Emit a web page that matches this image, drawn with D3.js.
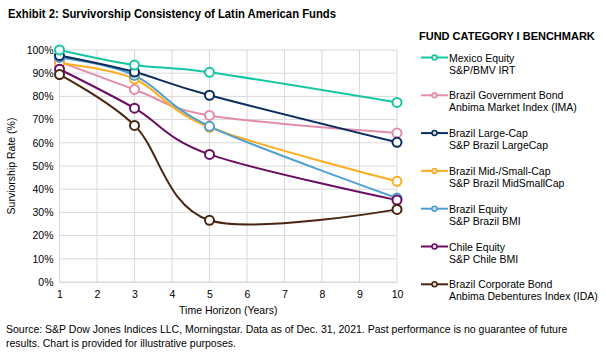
<!DOCTYPE html>
<meta charset="utf-8" />
<title>Survivorship Consistency of Latin American Funds</title>
<style>
  body { margin: 0; background: #fff; }
  svg { display: block; font-family: "Liberation Sans", Arial, sans-serif; }
  .grid line { stroke: #d9d9d9; stroke-width: 1px; }
  .tick text { font-size: 10.5px; fill: #000; }
  .series { fill: none; stroke-width: 2px; }
  .dot { fill: #fff; stroke-width: 2px; }
</style>
<body>
<svg width="606" height="353"></svg>
<script src="https://d3js.org/d3.v7.min.js"></script>
<script>
  // data
  const years = [1, 3, 5, 10];
  const xTicks = [1, 2, 3, 4, 5, 6, 7, 8, 9, 10];
  const yTicks = [0, 10, 20, 30, 40, 50, 60, 70, 80, 90, 100];

  const mexicoEquity = [100, 93.5, 90.4, 77.4];
  const brazilGovBond = [95.0, 83.0, 71.8, 64.2];
  const brazilLargeCap = [97.6, 90.5, 80.5, 60.2];
  const brazilMidSmall = [94.3, 87.5, 66.7, 43.4];
  const brazilEquity = [96.8, 89.1, 67.1, 36.2];
  const chileEquity = [91.7, 74.9, 55.0, 35.3];
  const brazilCorpBond = [89.4, 67.5, 26.6, 31.3];

  const seriesNames = [
    ["Mexico Equity", "S&P/BMV IRT"],
    ["Brazil Government Bond", "Anbima Market Index (IMA)"],
    ["Brazil Large-Cap", "S&P Brazil LargeCap"],
    ["Brazil Mid-/Small-Cap", "S&P Brazil MidSmallCap"],
    ["Brazil Equity", "S&P Brazil BMI"],
    ["Chile Equity", "S&P Chile BMI"],
    ["Brazil Corporate Bond", "Anbima Debentures Index (IDA)"]
  ];
  const seriesValues = [mexicoEquity, brazilGovBond, brazilLargeCap, brazilMidSmall,
    brazilEquity, chileEquity, brazilCorpBond];
  const colors = ["#14c6a2", "#e38cab", "#0a2d5e", "#ffad1f", "#4f9fd0", "#6b0d63", "#4a2410"];

  const svg = d3.select("svg");

  const x = d3.scaleLinear().domain([1, 10]).range([59.5, 397]);
  const y = d3.scaleLinear().domain([0, 100]).range([282, 50]);

  // title
  svg.append("text")
    .attr("x", 8).attr("y", 18)
    .attr("font-size", 13.5).attr("font-weight", "bold")
    .attr("textLength", 328).attr("lengthAdjust", "spacingAndGlyphs")
    .text("Exhibit 2: Survivorship Consistency of Latin American Funds");

  // gridlines
  const grid = svg.append("g").attr("class", "grid");
  grid.selectAll("line.h").data(yTicks).join("line")
    .attr("class", "h")
    .attr("x1", x(1)).attr("x2", x(10))
    .attr("y1", d => y(d)).attr("y2", d => y(d));
  grid.selectAll("line.v").data(xTicks).join("line")
    .attr("class", "v")
    .attr("x1", d => x(d)).attr("x2", d => x(d))
    .attr("y1", y(0)).attr("y2", y(100));

  // axes
  const yAxis = svg.append("g")
    .attr("transform", `translate(${x(1)},0)`)
    .call(d3.axisLeft(y).tickValues(yTicks).tickFormat(d => d + "%").tickSize(0).tickPadding(6));
  yAxis.select(".domain").remove();

  const xAxis = svg.append("g")
    .attr("transform", `translate(0,${y(0)})`)
    .call(d3.axisBottom(x).tickValues(xTicks).tickFormat(d3.format("d")).tickSize(0).tickPadding(9));
  xAxis.select(".domain").attr("stroke", "#d9d9d9");

  svg.append("text")
    .attr("transform", `translate(15,${y(50)}) rotate(-90)`)
    .attr("text-anchor", "middle")
    .attr("font-size", 10.5)
    .text("Surviorship Rate (%)");

  svg.append("text")
    .attr("x", (x(1) + x(10)) / 2).attr("y", 314)
    .attr("text-anchor", "middle")
    .attr("font-size", 10.5)
    .text("Time Horizon (Years)");

  // lines
  const line = d3.line()
    .x(d => x(d[0]))
    .y(d => y(d[1]))
    .curve(d3.curveCatmullRom.alpha(0));

  const series = seriesValues.map((vals, i) => ({
    name: seriesNames[i],
    color: colors[i],
    points: years.map((yr, j) => [yr, vals[j]])
  }));

  const drawOrder = [1, 3, 4, 2, 0, 5, 6];
  const g = svg.append("g");
  drawOrder.forEach(i => {
    const s = series[i];
    g.append("path")
      .attr("class", "series")
      .attr("stroke", s.color)
      .attr("d", line(s.points));
  });
  drawOrder.forEach(i => {
    const s = series[i];
    g.selectAll(null).data(s.points).join("circle")
      .attr("class", "dot")
      .attr("stroke", s.color)
      .attr("cx", d => x(d[0]))
      .attr("cy", d => y(d[1]))
      .attr("r", 4.5);
  });

  // legend
  svg.append("text")
    .attr("x", 419).attr("y", 40)
    .attr("font-size", 11).attr("font-weight", "bold")
    .text("FUND CATEGORY I BENCHMARK");

  const legend = svg.append("g");
  series.forEach((s, i) => {
    const ly = 57.5 + i * 37.8;
    const item = legend.append("g").attr("transform", `translate(0,${ly})`);
    item.append("line")
      .attr("x1", 421).attr("x2", 448)
      .attr("stroke", s.color).attr("stroke-width", 2);
    item.append("circle")
      .attr("cx", 434.5).attr("r", 2.5)
      .attr("fill", "#ddd").attr("stroke", s.color).attr("stroke-width", 1.5);
    item.append("text")
      .attr("x", 449).attr("y", 4)
      .attr("font-size", 10.5)
      .text(s.name[0]);
    item.append("text")
      .attr("x", 449).attr("y", 16)
      .attr("font-size", 10.5)
      .text(s.name[1]);
  });

  // footnote
  const foot = svg.append("g").attr("font-size", 10.5);
  foot.append("text").attr("x", 6).attr("y", 333)
    .text("Source: S&P Dow Jones Indices LLC, Morningstar. Data as of Dec. 31, 2021. Past performance is no guarantee of future");
  foot.append("text").attr("x", 6).attr("y", 347)
    .text("results. Chart is provided for illustrative purposes.");
</script>
</body>
